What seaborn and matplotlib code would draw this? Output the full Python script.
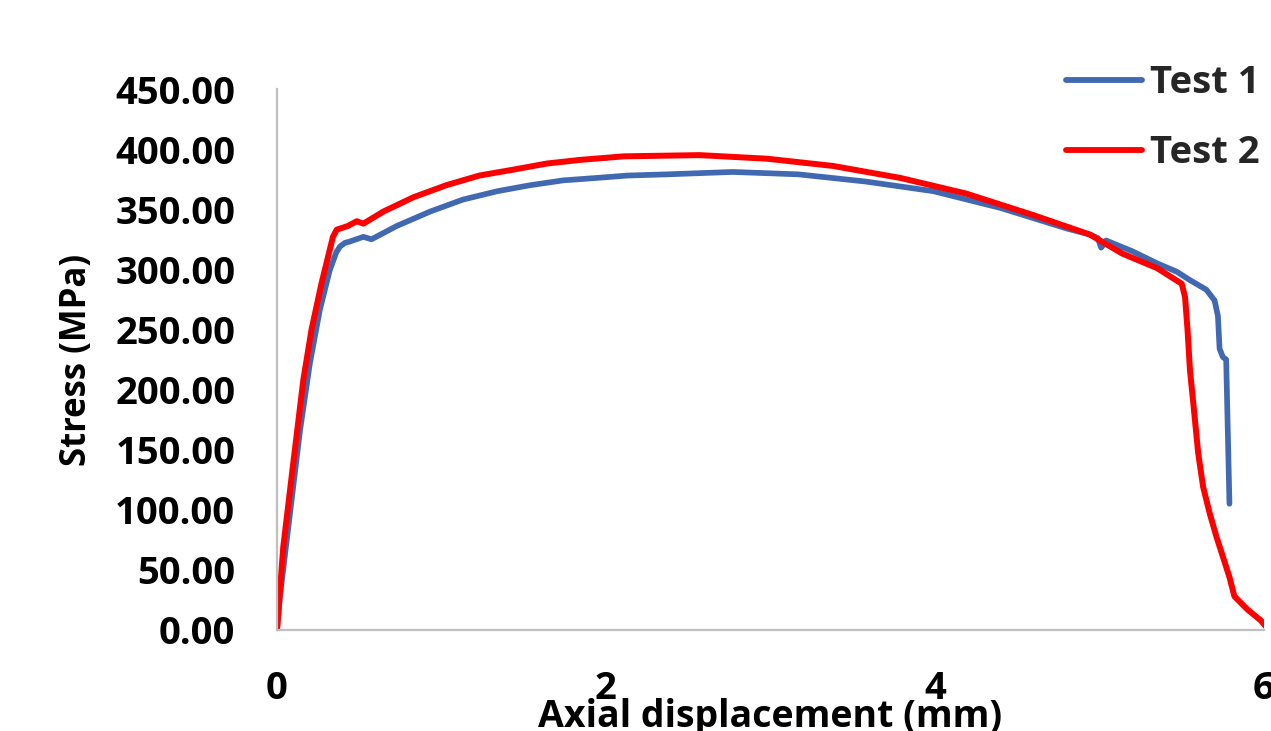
import matplotlib
matplotlib.use("Agg")
import matplotlib.pyplot as plt
import seaborn as sns
import pandas as pd

# ---- data ----
test1_disp = [0, 0.018, 0.079, 0.14, 0.20, 0.26, 0.32, 0.36, 0.383, 0.413, 0.44, 0.525, 0.575,
              0.727, 0.93, 1.13, 1.34, 1.54, 1.74, 1.94, 2.13, 2.37, 2.77, 3.17, 3.58,
              3.99, 4.40, 4.80, 4.94, 4.99, 5.01, 5.04, 5.20, 5.35, 5.47, 5.55, 5.65,
              5.70, 5.72, 5.73, 5.75, 5.77, 5.79]
test1_stress = [0, 28, 97, 166, 222, 266, 299, 314, 319, 322, 323, 327, 325,
                336, 348, 358, 365, 370, 374, 376, 378, 379, 381, 379, 373,
                365, 351, 334, 329, 326, 318, 324, 315, 305, 298, 291, 283,
                274, 261, 234, 227, 225, 105]

test2_disp = [0, 0.038, 0.099, 0.16, 0.21, 0.27, 0.34, 0.363, 0.43, 0.485, 0.525, 0.646,
              0.83, 1.03, 1.23, 1.44, 1.64, 1.84, 2.11, 2.57, 2.98, 3.38, 3.79, 4.19,
              4.60, 4.94, 5.14, 5.35, 5.50, 5.52, 5.535, 5.55, 5.57, 5.60, 5.63, 5.67,
              5.71, 5.79, 5.82, 5.90, 5.98, 6.03]
test2_stress = [0, 69, 139, 208, 250, 288, 327, 333, 336, 340, 338, 348,
                360, 370, 378, 383, 388, 391, 394, 395, 392, 386, 376, 363,
                345, 329, 313, 301, 288, 277, 250, 216, 189, 147, 119, 97,
                78, 44, 28, 17, 8, 0]

series_names = ["Test 1", "Test 2"]
x_ticks = [0, 2, 4, 6]
y_ticks = [0, 50, 100, 150, 200, 250, 300, 350, 400, 450]

df1 = pd.DataFrame({"disp": test1_disp, "stress": test1_stress})
df2 = pd.DataFrame({"disp": test2_disp, "stress": test2_stress})

sns.set_theme(style="white")
plt.rcParams["font.family"] = ["Open Sans", "DejaVu Sans"]
plt.rcParams["font.weight"] = "bold"

fig = plt.figure(figsize=(12.71, 7.31), dpi=100)
ax = fig.add_axes([277 / 1271, 1 - 630 / 731, (1264 - 277) / 1271, (630 - 89) / 731])

sns.lineplot(data=df1, x="disp", y="stress", ax=ax, color="#4169B1", lw=4.1,
             sort=False, estimator=None, label=series_names[0])
sns.lineplot(data=df2, x="disp", y="stress", ax=ax, color="#FF0000", lw=4.3,
             sort=False, estimator=None, label=series_names[1])
for ln in ax.get_lines():
    ln.set_solid_joinstyle("round")
    ln.set_solid_capstyle("round")

ax.set_xlim(0, 6)
ax.set_ylim(0, 450)
ax.set_xticks(x_ticks)
ax.set_xticklabels([str(t) for t in x_ticks])
ax.set_yticks(y_ticks)
ax.set_yticklabels([f"{t:.2f}" for t in y_ticks])

for lab in ax.get_xticklabels() + ax.get_yticklabels():
    lab.set_fontsize(27.5)
    lab.set_fontweight("bold")
    lab.set_color("black")
ax.tick_params(axis="both", length=0)
ax.tick_params(axis="y", pad=30)
ax.tick_params(axis="x", pad=29)

for side in ["top", "right"]:
    ax.spines[side].set_visible(False)
for side in ["left", "bottom"]:
    ax.spines[side].set_color("#BFBFBF")
    ax.spines[side].set_linewidth(1.6)

ax.set_xlabel("Axial displacement (mm)", fontsize=27, fontweight="bold", color="black")
ax.set_ylabel("Stress (MPa)", fontsize=25, fontweight="bold", color="black")
ax.xaxis.set_label_coords(0.5, -0.125)
ax.yaxis.set_label_coords(-0.184, 0.5)

leg = ax.legend(loc="upper left", bbox_to_anchor=(1066 / 1271, 1 - 64 / 731),
                bbox_transform=fig.transFigure, frameon=False, fontsize=27.5,
                handlelength=2.0, handletextpad=0.2, labelspacing=0.85,
                borderpad=0, borderaxespad=0)
for t in leg.get_texts():
    t.set_fontweight("bold")
for h in leg.get_lines():
    h.set_linewidth(4.2)
    h.set_solid_capstyle("round")

fig.savefig("out.png", dpi=100)
